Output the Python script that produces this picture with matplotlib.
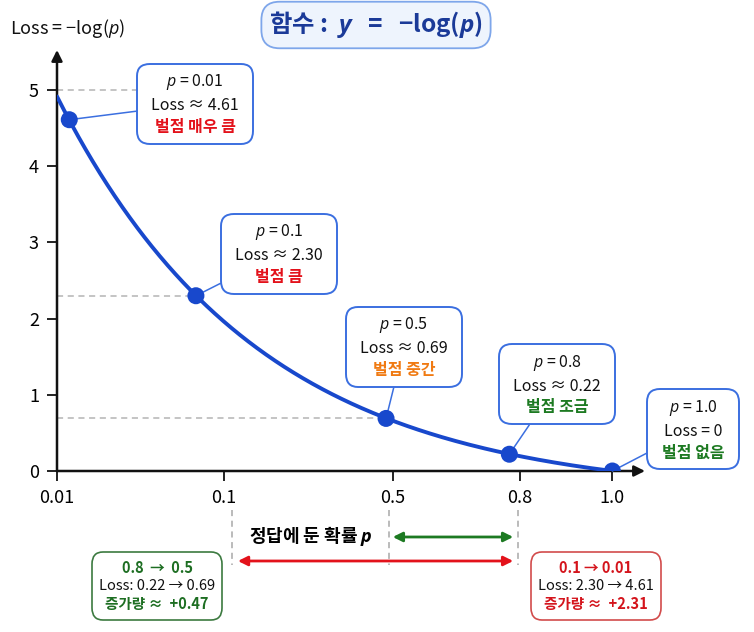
import numpy as np
import matplotlib
matplotlib.use('Agg')
import matplotlib.pyplot as plt
from matplotlib.offsetbox import TextArea, VPacker, HPacker, DrawingArea, AnnotationBbox

plt.rcParams['font.family'] = ['Noto Sans CJK KR', 'DejaVu Sans']
plt.rcParams['mathtext.fontset'] = 'custom'
plt.rcParams['mathtext.rm'] = 'Noto Sans CJK KR'
plt.rcParams['mathtext.it'] = 'Open Sans:italic'
plt.rcParams['mathtext.bfit'] = 'Open Sans:italic:bold'

# data
p_vals = [0.01, 0.1, 0.5, 0.8, 1.0]
loss_vals = [4.61, 2.30, 0.69, 0.22, 0.0]
p_text = ['0.01', '0.1', '0.5', '0.8', '1.0']
loss_text = ['≈ 4.61', '≈ 2.30', '≈ 0.69', '≈ 0.22', '= 0']
penalty = ['벌점 매우 큼', '벌점 큼', '벌점 중간', '벌점 조금', '벌점 없음']
penalty_col = ['#e3121b', '#e3121b', '#f07a12', '#1d7a22', '#1d7a22']
tick_labels = ['0.01', '0.1', '0.5', '0.8', '1.0']
y_ticks = [0, 1, 2, 3, 4, 5]

# compare boxes
cmp_green = ['0.8  →  0.5', 'Loss: 0.22 → 0.69', '증가량 ≈  +0.47']
cmp_red = ['0.1 → 0.01', 'Loss: 2.30 → 4.61', '증가량 ≈  +2.31']

# layout (axis position units)
tick_pos = [0.0, 0.301, 0.605, 0.834, 1.0]
box_xy = [(0.249, 4.82), (0.40, 2.85), (0.625, 1.63), (0.901, 1.14), (1.146, 0.55)]
guide_x = [0.315, 0.598, 0.831]

BLUE = '#1848cc'
EDGE = '#3b6fe0'

# display mapping p -> horizontal position (curve squeezed like the drawing)
K, A, C = 2.75, 5.25, 0.335


def pos(p):
    L = -np.log(p)
    return -np.log((L + C) / A) / K


def padded(pack, w):
    return HPacker(children=[DrawingArea(w, 1), pack, DrawingArea(w, 1)],
                   align='center', pad=0, sep=0)


fig = plt.figure(figsize=(7.54, 6.32), dpi=100)
ax = fig.add_axes([57 / 754, 1 - 471 / 632, 588 / 754, 421 / 632])
ax.set_xlim(0, 588 / 555)
ax.set_ylim(0, 421 / 76.2)
for s in ax.spines.values():
    s.set_visible(False)

# axes with arrows
for tip in [(1, 0), (0, 1)]:
    ax.annotate('', xy=tip, xytext=(0, 0), xycoords='axes fraction',
                arrowprops=dict(arrowstyle='-|>', lw=1.8, color='#111111', mutation_scale=16,
                                shrinkA=0, shrinkB=0))

ax.set_xticks(tick_pos)
ax.set_xticklabels(tick_labels)
ax.set_yticks(y_ticks)
ax.tick_params(axis='both', direction='out', length=7, width=1.3, color='#111111',
               labelsize=13, pad=6)

# curve
p_start = np.exp(-(A - C))
pc = np.geomspace(p_start, 1.0, 400)
ax.plot(pos(pc), -np.log(pc), color=BLUE, lw=2.8, zorder=3, solid_capstyle='round')

px = pos(np.array(p_vals))
ax.scatter(px, loss_vals, s=150, color=BLUE, zorder=6, edgecolors='none')

# dashed guides
dash = dict(ls=(0, (4, 3)), color='#b4b4b4', lw=1.1, zorder=1)
ax.plot([0, 0.144], [5, 5], **dash)
ax.plot([0, px[1]], [loss_vals[1], loss_vals[1]], **dash)
ax.plot([0, px[2]], [loss_vals[2], loss_vals[2]], **dash)

# annotation boxes
for i in range(len(p_vals)):
    kids = [TextArea(f'$p$ = {p_text[i]}', textprops=dict(fontsize=11.5, color='#111111')),
            TextArea(f'Loss {loss_text[i]}', textprops=dict(fontsize=11.5, color='#111111')),
            TextArea(penalty[i], textprops=dict(fontsize=11.5, color=penalty_col[i],
                                                fontweight='bold'))]
    pack = padded(VPacker(children=kids, align='center', pad=0, sep=3.5), 4)
    ab = AnnotationBbox(pack, xy=(px[i], loss_vals[i]), xybox=box_xy[i],
                        xycoords='data', boxcoords='data', fontsize=11.5,
                        bboxprops=dict(boxstyle='round,pad=0.55,rounding_size=0.8',
                                       ec=EDGE, fc='white', lw=1.4),
                        arrowprops=dict(arrowstyle='-', color=EDGE, lw=1.1,
                                        shrinkA=0, shrinkB=0),
                        annotation_clip=False, zorder=4)
    ax.add_artist(ab)

# vertical guides below axis and range arrows
for gx in guide_x:
    ax.plot([gx, gx], [-0.51, -1.23], ls=(0, (4, 3)), color='#a8a8a8', lw=1.1, clip_on=False)
ax.annotate('', xy=(0.822, -0.866), xytext=(0.605, -0.866), xycoords='data',
            arrowprops=dict(arrowstyle='<|-|>', color='#1d7a22', lw=2, mutation_scale=14,
                            shrinkA=0, shrinkB=0), annotation_clip=False)
ax.annotate('', xy=(0.822, -1.181), xytext=(0.326, -1.181), xycoords='data',
            arrowprops=dict(arrowstyle='<|-|>', color='#e3121b', lw=2, mutation_scale=14,
                            shrinkA=0, shrinkB=0), annotation_clip=False)

# labels
ax.set_xlabel('정답에 둔 확률 $\\mathbfit{p}$', fontsize=13, fontweight='bold')
ax.xaxis.set_label_coords((311 - 57) / 588, -(524 - 471) / 421)
fig.text(10 / 754, 1 - 28 / 632, 'Loss = −log($p$)', fontsize=13, ha='left', va='center',
         color='#111111')
fig.text(376 / 754, 1 - 25 / 632, '함수 :  $\\mathbfit{y}$   =   −log($\\mathbfit{p}$)',
         fontsize=17.5, fontweight='bold', color='#1b3a98', ha='center', va='center',
         bbox=dict(boxstyle='round,pad=0.32,rounding_size=0.75', fc='#eef4fd', ec='#7ea6ea',
                   lw=1.3))

# comparison boxes at the bottom
for lines, col, edge, cx in [(cmp_green, '#1d6e22', '#3c7a40', 157),
                             (cmp_red, '#d4141c', '#d24b4b', 596)]:
    kids = [TextArea(lines[0], textprops=dict(fontsize=10.5, color=col, fontweight='bold')),
            TextArea(lines[1], textprops=dict(fontsize=10.5, color='#111111')),
            TextArea(lines[2], textprops=dict(fontsize=10.5, color=col, fontweight='bold'))]
    pack = VPacker(children=kids, align='center', pad=0, sep=2.5)
    ab = AnnotationBbox(pack, xy=(cx, 632 - 586), xycoords='figure pixels', fontsize=10.5,
                        bboxprops=dict(boxstyle='round,pad=0.5,rounding_size=0.8',
                                       ec=edge, fc='white', lw=1.2),
                        annotation_clip=False)
    fig.add_artist(ab)

fig.savefig('out.png', dpi=100)
